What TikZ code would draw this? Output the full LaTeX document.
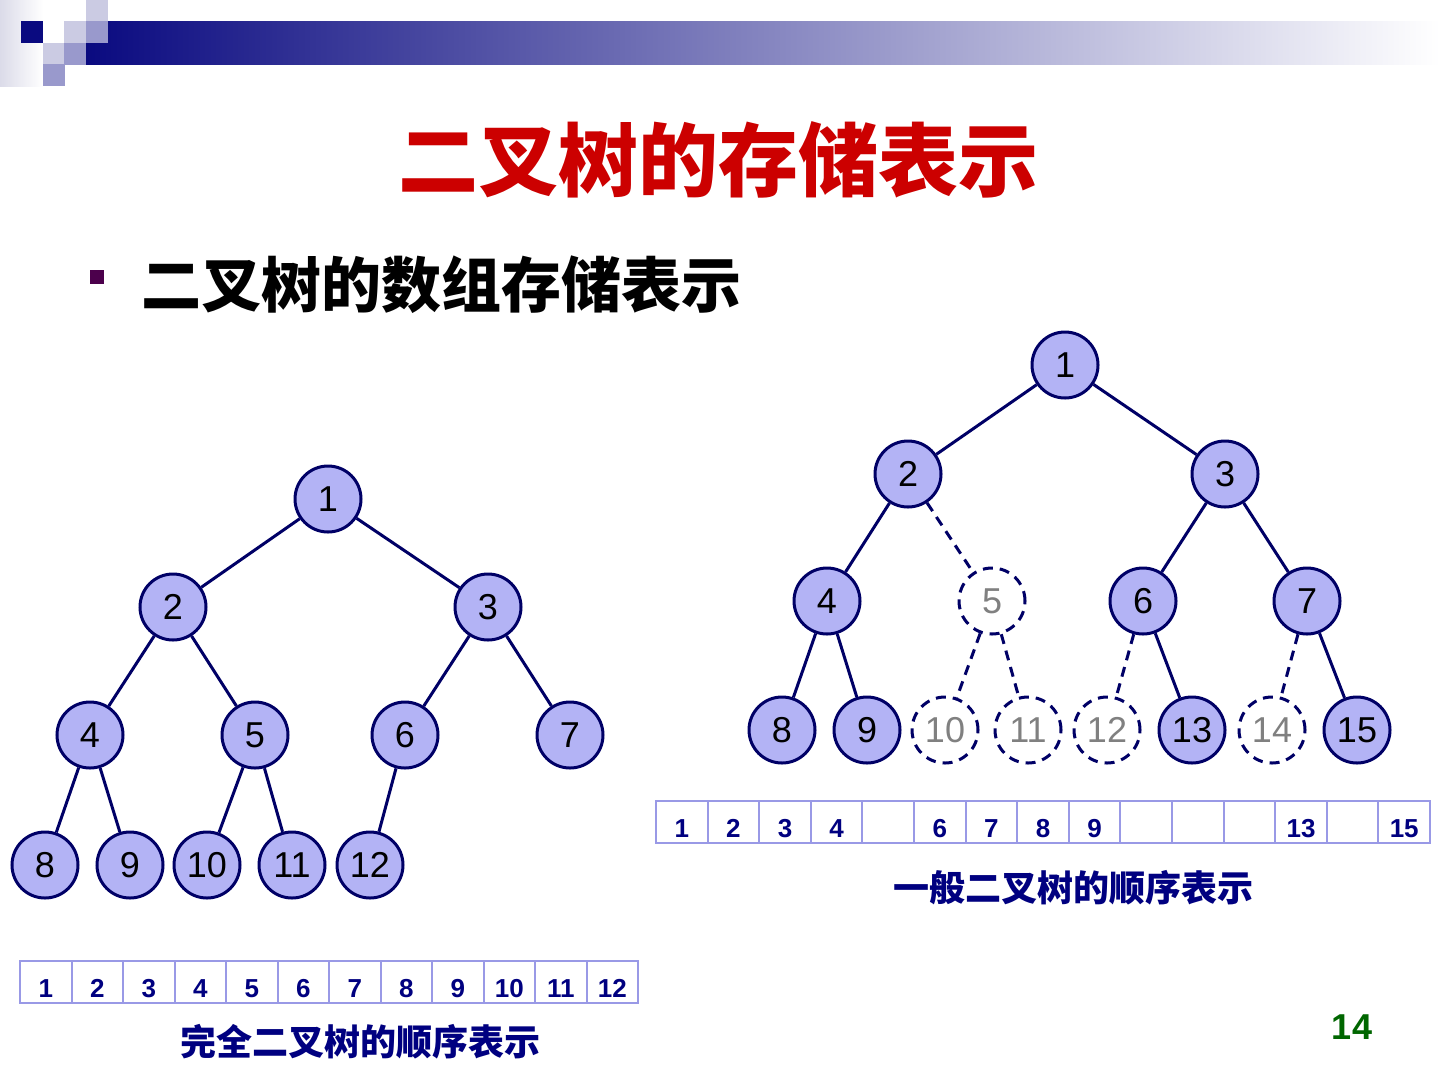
\documentclass[tikz,border=0pt]{standalone}
\usepackage{fontspec}
\setmainfont{Liberation Sans}
\newfontfamily\cjk{Noto Sans CJK SC}
\usetikzlibrary{positioning}

\definecolor{navy}{HTML}{000066}
\definecolor{capnavy}{HTML}{000080}
\definecolor{nodefill}{HTML}{B3B3F5}
\definecolor{cellline}{HTML}{9999E6}
\definecolor{titlered}{HTML}{CC0000}
\definecolor{pagegreen}{HTML}{006600}
\definecolor{barblue}{HTML}{0A0A80}
\definecolor{sqlight}{HTML}{CBCBE3}
\definecolor{sqmid}{HTML}{9999CC}

\tikzset{
    treenode/.style={circle, draw=navy, line width=3pt, fill=nodefill, minimum size=66pt, inner sep=0pt, font=\fontsize{36}{36}\selectfont},
    emptynode/.style={treenode, fill=white, dash pattern=on 10pt off 7pt, text=gray},
    treeedge/.style={navy, line width=3pt},
    emptyedge/.style={treeedge, dash pattern=on 10pt off 7pt},
    cell/.style={draw=cellline, line width=2pt, minimum height=42pt, inner sep=0pt, text height=30pt, text depth=0pt, text=capnavy, font=\bfseries\fontsize{26}{26}\selectfont},
    caption/.style={text=capnavy, font=\cjk\bfseries\fontsize{36}{36}\selectfont}
}

\begin{document}
\begin{tikzpicture}[x=1pt, y=-1pt]
    \useasboundingbox (0,0) rectangle (1440,1080);
    \fill[white] (0,0) rectangle (1440,1080);

    % Banner and corner squares
    \shade[left color=black!4!sqlight!60, right color=white] (0,0) rectangle (43,86);
    \shade[left color=barblue, right color=white] (86,21) rectangle (1440,64);
    \fill[barblue] (21,21) rectangle (43,43);
    \foreach \x/\y in {43/43, 64/21, 86/0}
        \fill[sqlight] (\x,\y) rectangle ++(21.5,21.5);
    \foreach \x/\y in {86/21, 64/43, 43/64}
        \fill[sqmid] (\x,\y) rectangle ++(21.5,21.5);

    % Title and bullet
    \node[text=titlered, font=\cjk\bfseries\fontsize{80}{80}\selectfont] (title) at (718,160) {二叉树的存储表示};
    \fill[violet!60!black] (90,270) rectangle (104,284);
    \node[font=\cjk\bfseries\fontsize{60}{60}\selectfont] (bullet) at (441,285) {二叉树的数组存储表示};

    % Complete binary tree (left)
    \foreach \n/\x/\y in {1/328/499, 2/173/607, 3/488/607, 4/90/735, 5/255/735, 6/405/735, 7/570/735,
                          8/45/865, 9/130/865, 10/207/865, 11/292/865, 12/370/865} {
        \node[treenode] (c\n) at (\x,\y) {\n};
    }
    \foreach \p/\c in {1/2, 1/3, 2/4, 2/5, 3/6, 3/7, 4/8, 4/9, 5/10, 5/11, 6/12} {
        \draw[treeedge] (c\p) -- (c\c);
    }

    % General binary tree (right)
    \foreach \n/\x/\y in {1/1065/365, 2/908/474, 3/1225/474, 4/827/601, 6/1143/601, 7/1307/601,
                          8/782/730, 9/867/730, 13/1192/730, 15/1357/730} {
        \node[treenode] (g\n) at (\x,\y) {\n};
    }
    \foreach \n/\x/\y in {5/992/601, 10/945/730, 11/1028/730, 12/1107/730, 14/1272/730} {
        \node[emptynode] (g\n) at (\x,\y) {\n};
    }
    \foreach \p/\c in {1/2, 1/3, 2/4, 3/6, 3/7, 4/8, 4/9, 6/13, 7/15} {
        \draw[treeedge] (g\p) -- (g\c);
    }
    \foreach \p/\c in {2/5, 5/10, 5/11, 6/12, 7/14} {
        \draw[emptyedge] (g\p) -- (g\c);
    }

    % Sequential arrays
    \foreach \v [count=\i] in {1,2,3,4,5,6,7,8,9,10,11,12} {
        \node[cell, minimum width=51.5pt] (la\i) at ({20+51.5*(\i-0.5)},982) {\v};
    }
    \node[caption] (lcap) at (360,1042) {完全二叉树的顺序表示};

    \foreach \v [count=\i] in {1,2,3,4,{},6,7,8,9,{},{},{},13,{},15} {
        \node[cell, minimum width=51.6pt] (ra\i) at ({656+51.6*(\i-0.5)},822) {\v};
    }
    \node[caption] (rcap) at (1073,888) {一般二叉树的顺序表示};

    % Page number
    \node[text=pagegreen, font=\bfseries\fontsize{36}{36}\selectfont] (page) at (1352,1027) {14};
\end{tikzpicture}
\end{document}
